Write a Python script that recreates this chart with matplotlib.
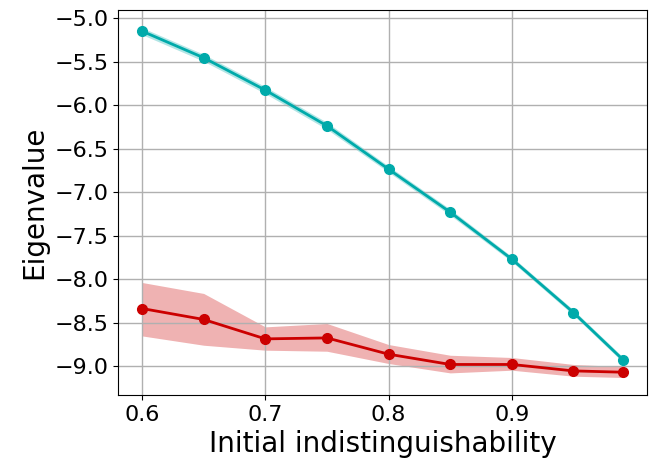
import numpy as np
import matplotlib.pyplot as plt

# indistinguishability values
x = [0.6, 0.65, 0.7, 0.75, 0.8, 0.85, 0.9, 0.95, 0.99]

# teal series (top)
teal = [-5.15, -5.456, -5.828, -6.238, -6.736, -7.23, -7.77, -8.383, -8.923]
teal_err = [0.04, 0.04, 0.04, 0.04, 0.035, 0.035, 0.03, 0.03, 0.03]

# red series (bottom) with band
red = [-8.337, -8.463, -8.686, -8.675, -8.862, -8.98, -8.98, -9.054, -9.069]
red_hi = [-8.038, -8.164, -8.548, -8.509, -8.751, -8.874, -8.90, -8.98, -9.004]
red_lo = [-8.652, -8.759, -8.816, -8.828, -8.969, -9.077, -9.046, -9.115, -9.13]

fig, ax = plt.subplots(figsize=(6.52, 4.62), dpi=100)

t = np.array(teal)
te = np.array(teal_err)
ax.fill_between(x, t - te, t + te, color='#00AAAA', alpha=0.3, linewidth=0)
ax.plot(x, teal, '-o', color='#00AAAA', linewidth=2, markersize=7)

ax.fill_between(x, red_lo, red_hi, color='#CC0000', alpha=0.3, linewidth=0)
ax.plot(x, red, '-o', color='#CC0000', linewidth=2, markersize=7)

ax.set_xticks([0.6, 0.7, 0.8, 0.9])
ax.set_yticks(np.arange(-9.0, -4.99, 0.5))
ax.tick_params(labelsize=16)
ax.set_xlabel('Initial indistinguishability', fontsize=20)
ax.set_ylabel('Eigenvalue', fontsize=20)
ax.grid(True, color='#b0b0b0', linewidth=1)

plt.subplots_adjust(left=0.181, right=0.992, top=0.978, bottom=0.145)
plt.savefig('out.png')
